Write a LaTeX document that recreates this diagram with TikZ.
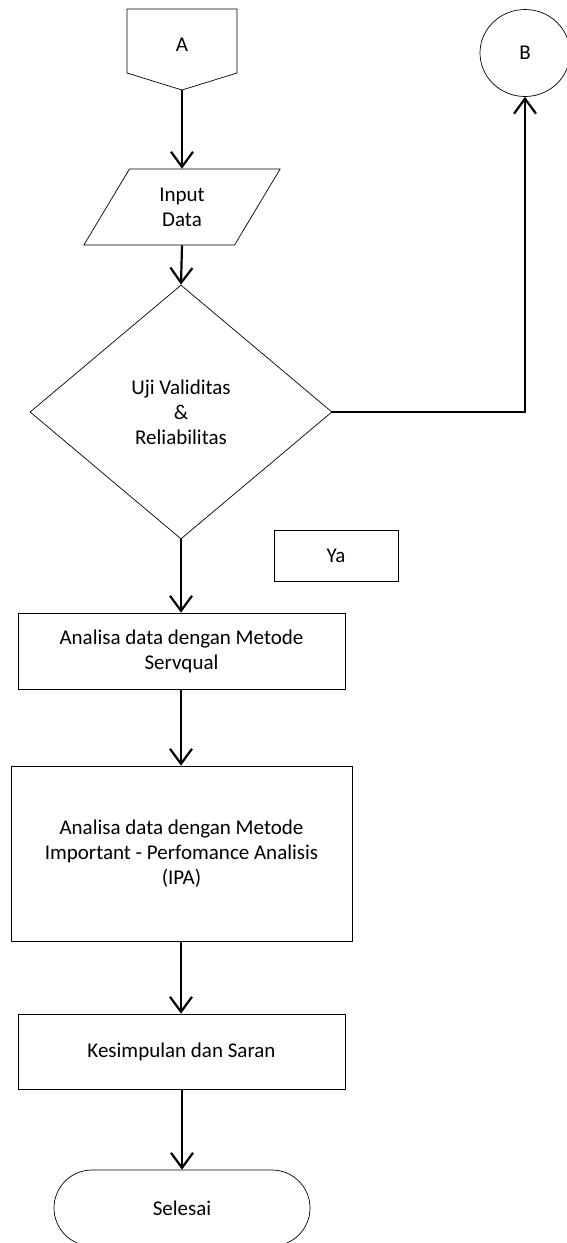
\documentclass[tikz,border=0pt]{standalone}
\usepackage{fontspec}
\setmainfont{Carlito}
\usetikzlibrary{arrows.meta, shapes.geometric, shapes.misc, positioning}
\tikzset{
	font = \fontsize{21}{25}\selectfont,
	>={Straight Barb[length=15pt, width=22pt]},
	box/.style={
		draw,
		rectangle,
		line width=.7pt,
		inner sep=0pt,
		align=center
	},
	io/.style={
		draw,
		trapezium,
		trapezium left angle=63,
		trapezium right angle=117,
		trapezium stretches=true,
		line width=.7pt,
		inner sep=0pt,
		align=center
	},
	decision/.style={
		draw,
		diamond,
		line width=.7pt,
		inner sep=0pt,
		align=center
	},
	terminal/.style={
		draw,
		rounded rectangle,
		line width=.7pt,
		inner sep=0pt
	},
	flow/.style={
		->,
		line width=2.2pt
	}
}
\begin{document}
\begin{tikzpicture}[x=1pt, y=-1pt]
		\useasboundingbox (0,0) rectangle (566,1243);

		% off-page connector A
		\draw[line width=.7pt] (127,9) -- (237,9) -- (237,73) -- (182,90) -- (127,73) -- cycle;
		\node (a) at (182,45) {A};
		\coordinate (atip) at (182,90);

		\node[draw, ellipse, line width=.7pt, minimum width=90pt, minimum height=87pt, inner sep=0pt] (b) at (525,53) {B};

		\node[io, minimum width=198pt, minimum height=76pt] (input) at (182,207) {Input\\Data};
		\node[decision, minimum width=302pt, minimum height=254pt] (uji) at (181,412)
			{Uji Validitas\\\&\\Reliabilitas};
		\node[box, minimum width=124pt, minimum height=51pt] (ya) at (336,555.5) {Ya};

		\node[box, minimum width=327pt, minimum height=76pt] (servqual) at (181.5,651)
			{Analisa data dengan Metode\\Servqual};
		\node[box, minimum width=341pt, minimum height=175pt] (ipa) at (181.5,853.5)
			{Analisa data dengan Metode\\Important - Perfomance Analisis\\(IPA)};
		\node[box, minimum width=327pt, minimum height=75pt] (simpulan) at (181.5,1051.5)
			{Kesimpulan dan Saran};
		\node[terminal, minimum width=256pt, minimum height=76pt] (selesai) at (182,1208) {Selesai};

		\draw[flow] (atip) to (input.north -| atip);
		\draw[flow] (input.south -| atip) to (uji.north);
		\draw[flow] (uji.south) to (servqual.north -| uji.south);
		\draw[flow] (servqual.south -| uji.south) to (ipa.north -| uji.south);
		\draw[flow] (ipa.south -| uji.south) to (simpulan.north -| uji.south);
		\draw[flow] (simpulan.south -| selesai.north) to (selesai.north);
		\draw[flow] (uji.east) -| (b.south);
	\end{tikzpicture}
\end{document}
